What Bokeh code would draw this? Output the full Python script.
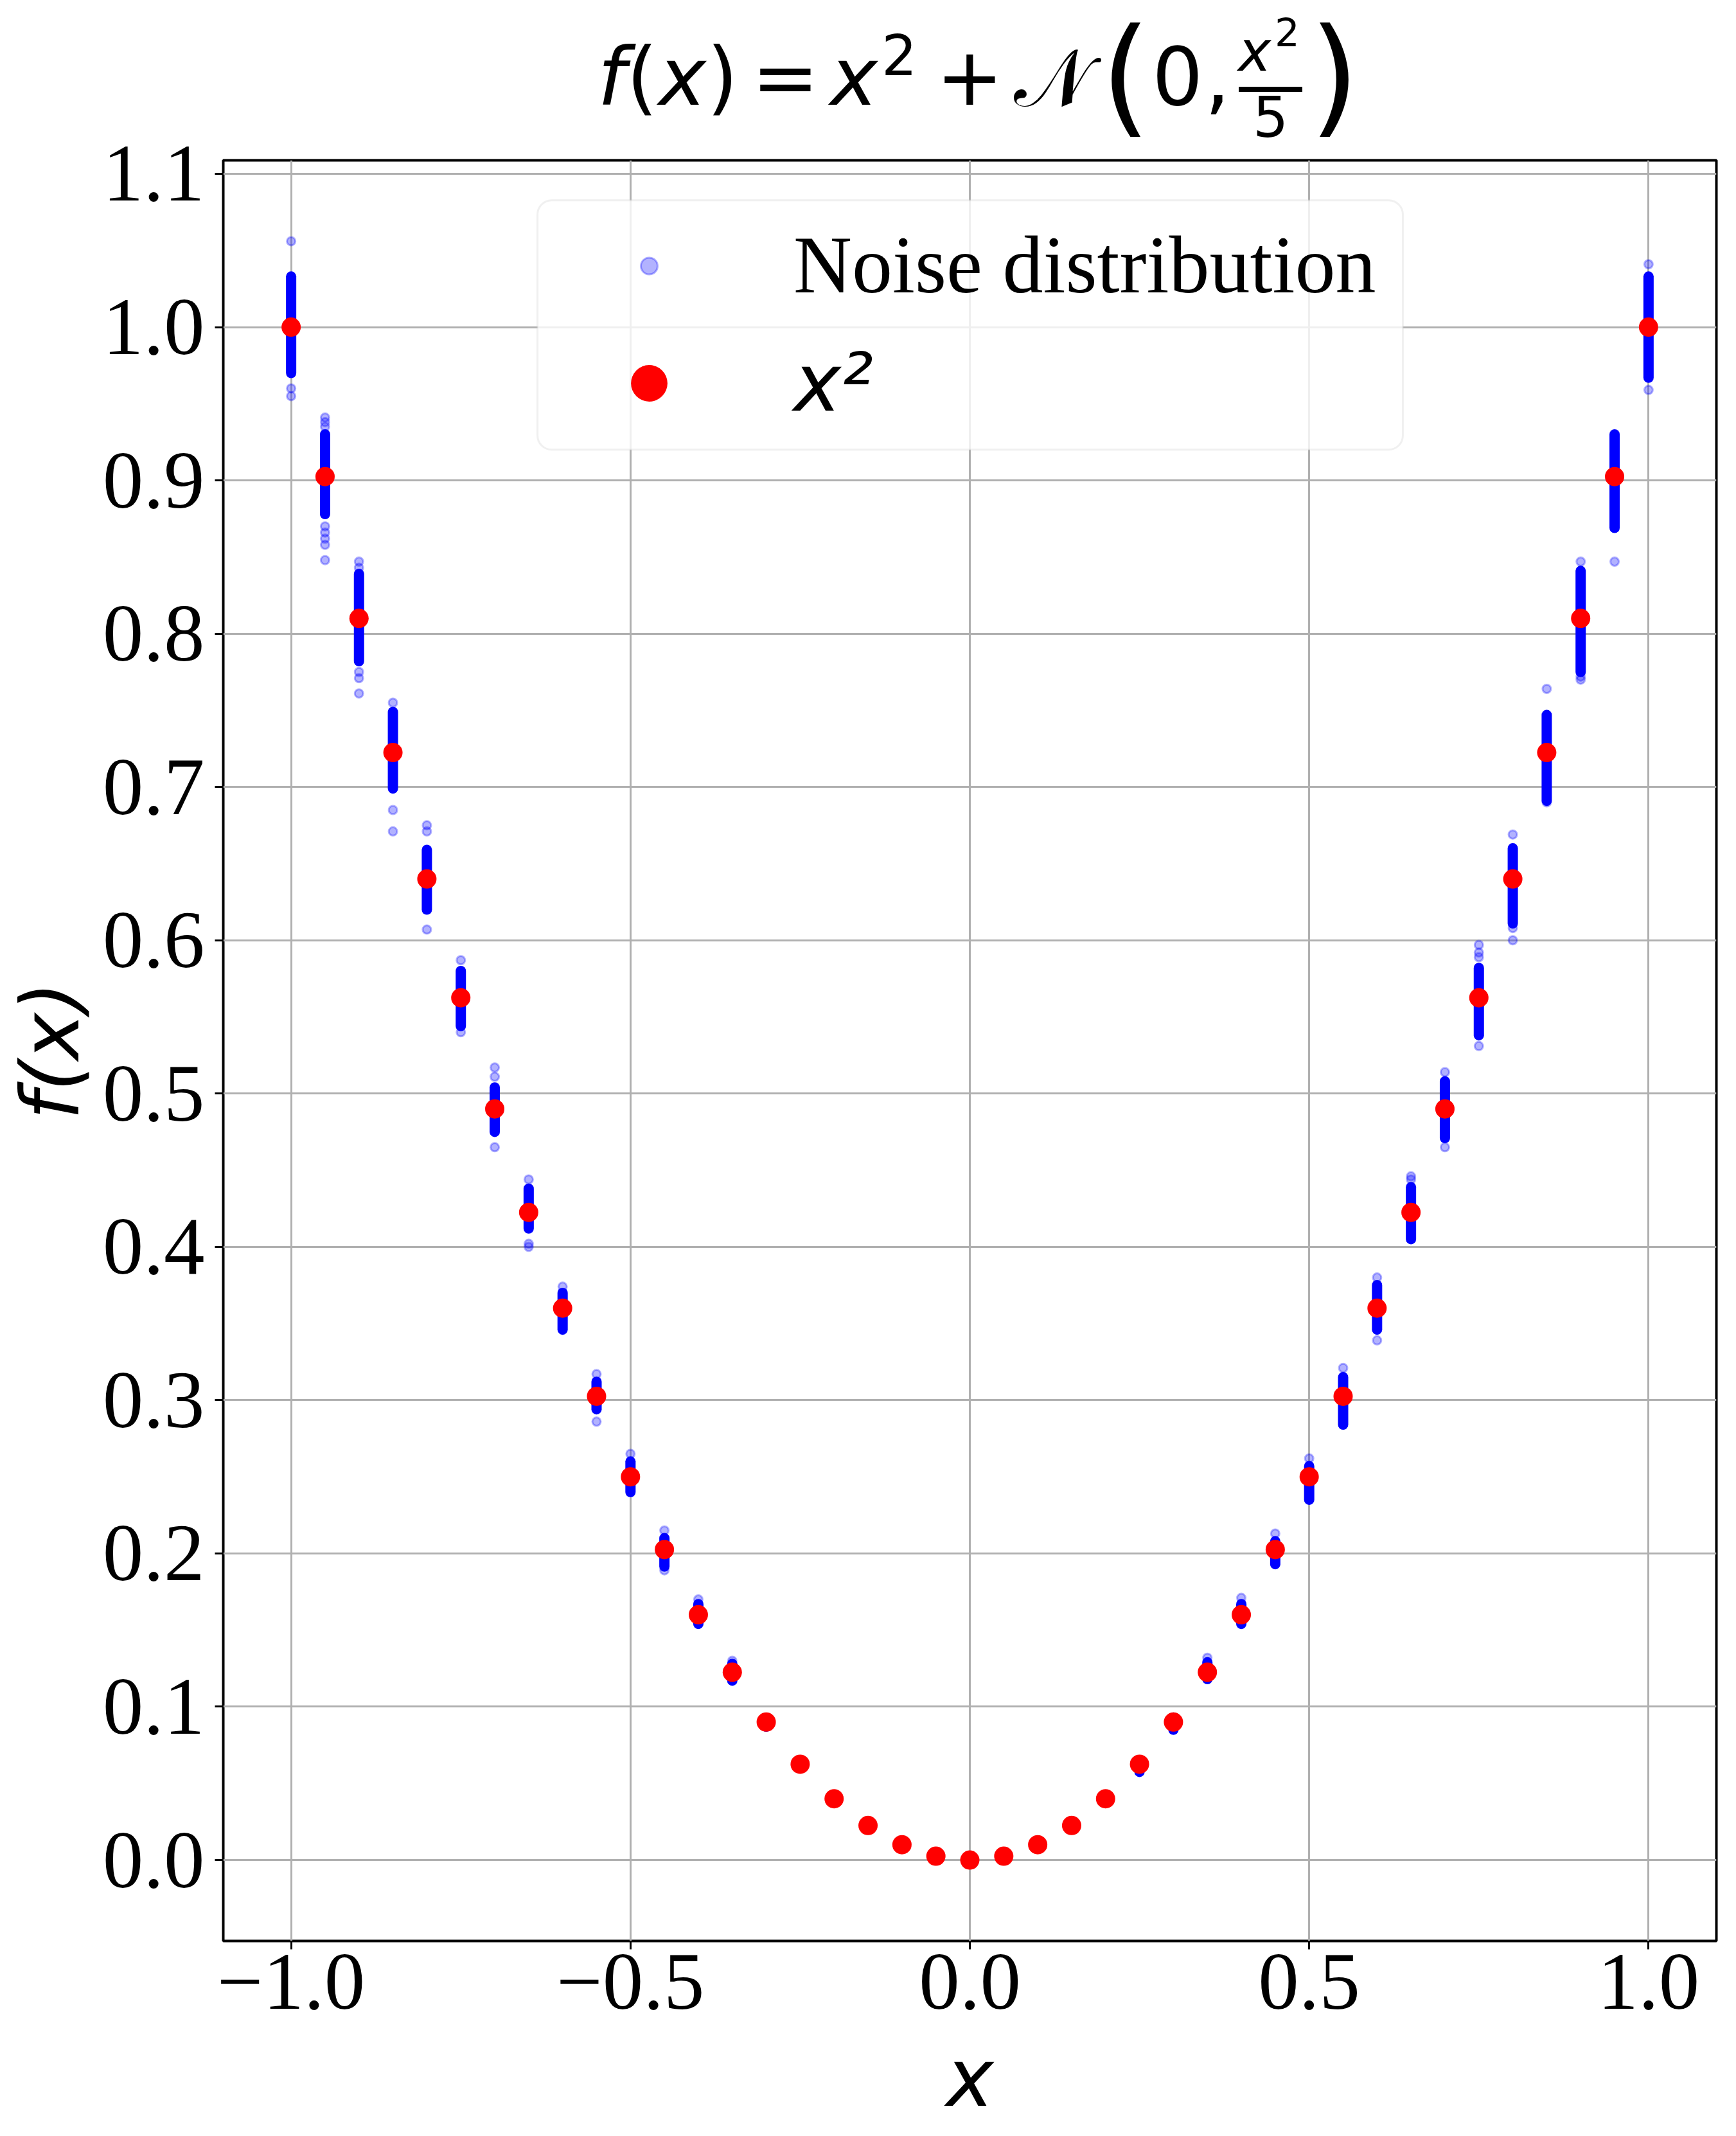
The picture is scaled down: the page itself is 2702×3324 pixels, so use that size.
from bokeh.plotting import figure
from bokeh.layouts import column
from bokeh.models import (ColumnDataSource, Range1d, FixedTicker, Legend, LegendItem,
                          BoxAnnotation, Div)
from bokeh.core.properties import value
from bokeh.embed import file_html
from bokeh.resources import INLINE

# ---------------- data ----------------
x_values = [-1.0, -0.95, -0.9, -0.85, -0.8, -0.75, -0.7, -0.65, -0.6, -0.55, -0.5,
            -0.45, -0.4, -0.35, -0.3, -0.25, -0.2, -0.15, -0.1, -0.05, 0.0,
            0.05, 0.1, 0.15, 0.2, 0.25, 0.3, 0.35, 0.4, 0.45, 0.5,
            0.55, 0.6, 0.65, 0.7, 0.75, 0.8, 0.85, 0.9, 0.95, 1.0]
x_squared = [1.0, 0.9025, 0.81, 0.7225, 0.64, 0.5625, 0.49, 0.4225, 0.36, 0.3025, 0.25,
             0.2025, 0.16, 0.1225, 0.09, 0.0625, 0.04, 0.0225, 0.01, 0.0025, 0.0,
             0.0025, 0.01, 0.0225, 0.04, 0.0625, 0.09, 0.1225, 0.16, 0.2025, 0.25,
             0.3025, 0.36, 0.4225, 0.49, 0.5625, 0.64, 0.7225, 0.81, 0.9025, 1.0]

# dense part of each noise column (lowest / highest densely packed sample)
noise_core_low = [0.970, 0.878, 0.782, 0.699, 0.620, 0.544, 0.475, 0.412, 0.346, 0.294, 0.240,
                  0.1915, 0.154, 0.117, 0.087, 0.0605, 0.0390, 0.0218, 0.0096, 0.0024, 0.0,
                  0.0024, 0.0096, 0.0218, 0.0390, 0.0575, 0.085, 0.118, 0.154, 0.193, 0.235,
                  0.284, 0.346, 0.405, 0.471, 0.538, 0.611, 0.691, 0.775, 0.869, 0.967]
noise_core_high = [1.033, 0.930, 0.839, 0.749, 0.659, 0.580, 0.504, 0.438, 0.370, 0.312, 0.260,
                   0.210, 0.167, 0.128, 0.092, 0.0645, 0.0410, 0.0232, 0.0104, 0.0026, 0.0,
                   0.0026, 0.0104, 0.0232, 0.0410, 0.0640, 0.093, 0.129, 0.167, 0.208, 0.257,
                   0.315, 0.375, 0.439, 0.508, 0.582, 0.660, 0.747, 0.841, 0.930, 1.033]

# isolated noise samples outside the dense part
noise_sparse_x = [-1.0, -1.0, -1.0,
                  -0.95, -0.95, -0.95, -0.95, -0.95, -0.95, -0.95, -0.95,
                  -0.9, -0.9, -0.9, -0.9, -0.9,
                  -0.85, -0.85, -0.85,
                  -0.8, -0.8, -0.8,
                  -0.75, -0.75,
                  -0.7, -0.7, -0.7,
                  -0.65, -0.65, -0.65,
                  -0.6,
                  -0.55, -0.55,
                  -0.5,
                  -0.45, -0.45,
                  -0.4, -0.35,
                  0.35, 0.4, 0.45, 0.5, 0.55,
                  0.6, 0.6,
                  0.65, 0.65,
                  0.7, 0.7,
                  0.75, 0.75, 0.75, 0.75,
                  0.8, 0.8, 0.8,
                  0.85, 0.85,
                  0.9, 0.9, 0.9,
                  0.95,
                  1.0, 1.0]
noise_sparse_y = [1.056, 0.960, 0.955,
                  0.941, 0.938, 0.935, 0.870, 0.866, 0.862, 0.858, 0.848,
                  0.847, 0.843, 0.775, 0.771, 0.761,
                  0.755, 0.685, 0.671,
                  0.675, 0.671, 0.607,
                  0.587, 0.540,
                  0.517, 0.511, 0.465,
                  0.444, 0.402, 0.400,
                  0.374,
                  0.317, 0.286,
                  0.265,
                  0.215, 0.189,
                  0.170, 0.130,
                  0.132, 0.171, 0.213, 0.262, 0.321,
                  0.380, 0.339,
                  0.446, 0.444,
                  0.514, 0.465,
                  0.597, 0.592, 0.589, 0.531,
                  0.669, 0.608, 0.600,
                  0.764, 0.690,
                  0.847, 0.772, 0.770,
                  0.847,
                  1.041, 0.959]

x_ticks = [-1.0, -0.5, 0.0, 0.5, 1.0]
x_tick_labels = ["\u22121.0", "\u22120.5", "0.0", "0.5", "1.0"]
y_ticks = [0.0, 0.1, 0.2, 0.3, 0.4, 0.5, 0.6, 0.7, 0.8, 0.9, 1.0, 1.1]
y_tick_labels = ["0.0", "0.1", "0.2", "0.3", "0.4", "0.5", "0.6", "0.7", "0.8", "0.9", "1.0", "1.1"]

legend_labels = ["Noise distribution", "x\u00b2"]

# ---------------- title  f(x) = x^2 + N(0, x^2/5)  (rich text above the frame) ----------------
TITLE_H = 249
# (text, left px, baseline px, font px, style)
title_pieces = [
    ("f", 930, 163, 125, "italic"),
    ("(", 975, 163, 125, "normal"),
    ("x", 1025, 163, 125, "italic"),
    (")", 1100, 163, 125, "normal"),
    ("=", 1170, 163, 125, "normal"),
    ("x", 1292, 163, 125, "italic"),
    ("2", 1372, 117, 87, "normal"),
    ("+", 1457, 163, 125, "normal"),
    ("\U0001D4A9", 1578, 165, 125, "normal"),
    ("(", 1713, 187, 200, "normal"),
    ("0", 1793, 163, 125, "normal"),
    (",", 1875, 163, 125, "normal"),
    ("x", 1927, 110, 87, "italic"),
    ("2", 1984, 72, 61, "normal"),
    ("5", 1950, 213, 87, "normal"),
    (")", 2038, 187, 200, "normal"),
]
spans = []
for txt, left, base, size, style in title_pieces:
    top = base - 0.346 * size   # line-height:0 puts the DejaVu baseline 0.346em below 'top'
    spans.append(
        '<span style="position:absolute;left:%dpx;top:%.1fpx;font-size:%dpx;line-height:0;'
        'font-style:%s;white-space:nowrap;">%s</span>' % (left, top, size, style, txt))
spans.append('<span style="position:absolute;left:1928px;top:135px;width:99px;height:8px;'
             'background:#000;"></span>')
title_html = ('<div style="position:relative;width:2702px;height:%dpx;font-family:\'DejaVu Sans\';'
              'color:#000;">%s</div>' % (TITLE_H, "".join(spans)))
title_div = Div(text=title_html, width=2702, height=TITLE_H, margin=0)

# ---------------- figure (full window, its transparent top border lies under the title) ----------------
X_LO, X_HI = -1.1, 1.1
Y_LO, Y_HI = -0.0528, 1.1088

p = figure(width=2702, height=3324, output_backend="svg", toolbar_location=None,
           x_range=Range1d(X_LO, X_HI), y_range=Range1d(Y_LO, Y_HI),
           min_border_left=347, min_border_right=31, min_border_top=249,
           min_border_bottom=304, margin=(-TITLE_H, 0, 0, 0))
p.background_fill_color = "white"
p.border_fill_color = "white"
p.border_fill_alpha = 0.0
p.outline_line_color = "black"
p.outline_line_width = 4

TICK_FONT = "Liberation Serif"
for ax, ticks, labels in ((p.xaxis[0], x_ticks, x_tick_labels), (p.yaxis[0], y_ticks, y_tick_labels)):
    ax.ticker = FixedTicker(ticks=ticks)
    ax.major_label_overrides = {t: l for t, l in zip(ticks, labels)}
    ax.axis_line_color = None
    ax.major_tick_out = 13
    ax.major_tick_in = 0
    ax.major_tick_line_width = 3
    ax.major_tick_line_color = "black"
    ax.minor_tick_line_color = None
    ax.major_label_text_font = TICK_FONT
    ax.major_label_text_font_size = "127px"
    ax.major_label_text_color = "black"
    ax.axis_label_text_font = "DejaVu Sans"
    ax.axis_label_text_font_size = "125px"
    ax.axis_label_text_font_style = "italic"
    ax.axis_label_text_color = "black"

p.xaxis.axis_label = "x"
p.yaxis.axis_label = "f(x)"
p.xaxis.major_label_standoff = 8
p.yaxis.major_label_standoff = 16
p.xaxis.axis_label_standoff = 32
p.yaxis.axis_label_standoff = 6

for g in (p.xgrid[0], p.ygrid[0]):
    g.grid_line_color = "#b0b0b0"
    g.grid_line_width = 3

# ---------------- glyphs ----------------
core_src = ColumnDataSource(dict(x=x_values, lo=noise_core_low, hi=noise_core_high))
sparse_src = ColumnDataSource(dict(x=noise_sparse_x, y=noise_sparse_y))
red_src = ColumnDataSource(dict(x=x_values, y=x_squared))

p.segment(x0="x", y0="lo", x1="x", y1="hi", source=core_src,
          line_color="blue", line_width=16, line_cap="round")
r_noise = p.scatter(x="x", y="y", source=sparse_src, size=13, marker="circle",
                    fill_color="blue", fill_alpha=0.3, line_color="blue", line_alpha=0.3,
                    line_width=3)
r_red = p.scatter(x="x", y="y", source=red_src, size=30, marker="circle",
                  fill_color="red", line_color=None)

# ---------------- legend ----------------
p.add_layout(BoxAnnotation(left=-0.637, right=0.638, bottom=0.9201, top=1.0827,
                           fill_color="white", fill_alpha=0.8,
                           line_color="#cccccc", line_width=3, border_radius=22))

leg1 = Legend(items=[LegendItem(label=value(legend_labels[0]), renderers=[r_noise])],
              location=(563, 2535), orientation="vertical", padding=0, margin=0, spacing=0,
              glyph_width=200, glyph_height=65, label_standoff=125,
              label_text_font=TICK_FONT, label_text_font_size="126px",
              label_text_color="black",
              border_line_color=None, background_fill_alpha=0)
leg2 = Legend(items=[LegendItem(label=value(legend_labels[1]), renderers=[r_red])],
              location=(563, 2352), orientation="vertical", padding=0, margin=0, spacing=0,
              glyph_width=200, glyph_height=142, label_standoff=125,
              label_text_font="DejaVu Sans", label_text_font_size="125px",
              label_text_font_style="italic", label_text_color="black",
              border_line_color=None, background_fill_alpha=0)
p.add_layout(leg1)
p.add_layout(leg2)

layout = column(title_div, p, spacing=0, margin=0)
open("out.html", "w").write(file_html(layout, INLINE))
